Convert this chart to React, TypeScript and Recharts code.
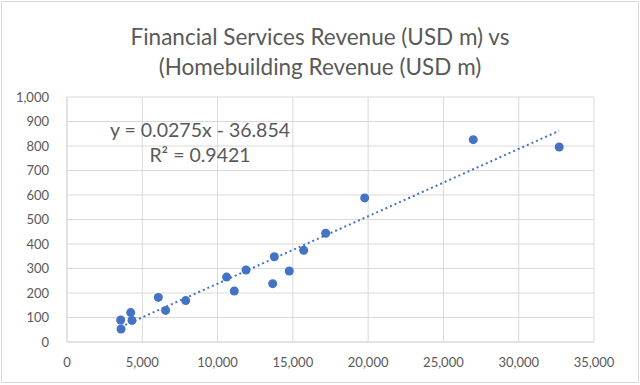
import React from 'react';
import { ScatterChart, Scatter, XAxis, YAxis, CartesianGrid, ReferenceLine } from 'recharts';

const homebuildingRevenue = [3566, 3590, 4230, 4316, 6065, 6550, 7880, 10600, 11110, 11890, 13660, 13770, 14760, 15720, 17180, 19770, 26980, 32690];
const financialRevenue = [90, 53, 120, 88, 182, 129, 169, 265, 208, 294, 238, 348, 290, 374, 444, 588, 826, 796];
const xTicks = [0, 5000, 10000, 15000, 20000, 25000, 30000, 35000];
const yTicks = [0, 100, 200, 300, 400, 500, 600, 700, 800, 900, 1000];
const trendSlope = 0.0275;
const trendIntercept = -36.854;
const titleLines = ['Financial Services Revenue (USD m) vs', '(Homebuilding Revenue (USD m)'];
const equationLines = ['y = 0.0275x - 36.854', 'R² = 0.9421'];

const data = homebuildingRevenue.map((x, i) => ({ x, y: financialRevenue[i] }));
const xMin = Math.min(...homebuildingRevenue);
const xMax = Math.max(...homebuildingRevenue);

const fmt = (v: number) => v.toLocaleString('en-US');
const FONT = 'Lato, "Open Sans", sans-serif';
const COLOR = '#4472C4';
const TEXT = '#595959';

export default function App() {
  return (
    <div style={{ position: 'absolute', left: 0, top: 0, width: 640, height: 385, background: '#fff', fontFamily: FONT }}>
      <div style={{ position: 'absolute', left: 1, top: 1, width: 636, height: 380, border: '1px solid #d9d9d9' }} />
      <div style={{ position: 'absolute', left: 0, top: 22, width: 640, textAlign: 'center', color: TEXT, fontSize: 22.5, lineHeight: '30px' }}>
        {titleLines.map((t, i) => <div key={i}>{t}</div>)}
      </div>
      <ScatterChart width={640} height={385} margin={{ top: 97, right: 46, bottom: 0, left: 0 }}>
        <CartesianGrid stroke="#d9d9d9" strokeWidth={1} />
        <XAxis
          type="number"
          dataKey="x"
          domain={[0, 35000]}
          ticks={xTicks}
          tickFormatter={fmt}
          height={43}
          axisLine={{ stroke: '#d9d9d9' }}
          tickLine={false}
          tickSize={0}
          tickMargin={16}
          tick={{ fill: TEXT, fontSize: 13, fontFamily: FONT }}
          interval={0}
        />
        <YAxis
          type="number"
          dataKey="y"
          domain={[0, 1000]}
          ticks={yTicks}
          tickFormatter={fmt}
          width={67}
          axisLine={{ stroke: '#d9d9d9' }}
          tickLine={false}
          tickSize={0}
          tickMargin={18}
          tick={{ fill: TEXT, fontSize: 13, fontFamily: FONT }}
          interval={0}
        />
        <ReferenceLine
          segment={[
            { x: xMin, y: trendSlope * xMin + trendIntercept },
            { x: xMax, y: trendSlope * xMax + trendIntercept },
          ]}
          stroke={COLOR}
          strokeWidth={2}
          strokeDasharray="2 3"
          ifOverflow="visible"
        />
        <Scatter data={data} fill={COLOR} isAnimationActive={false} shape={(p: any) => <circle cx={p.cx} cy={p.cy} r={4.5} fill={COLOR} />} />
      </ScatterChart>
      <div style={{ position: 'absolute', left: 90, top: 117, width: 220, textAlign: 'center', color: TEXT, fontSize: 19.5, lineHeight: '25px' }}>
        {equationLines.map((t, i) => <div key={i}>{t}</div>)}
      </div>
    </div>
  );
}
